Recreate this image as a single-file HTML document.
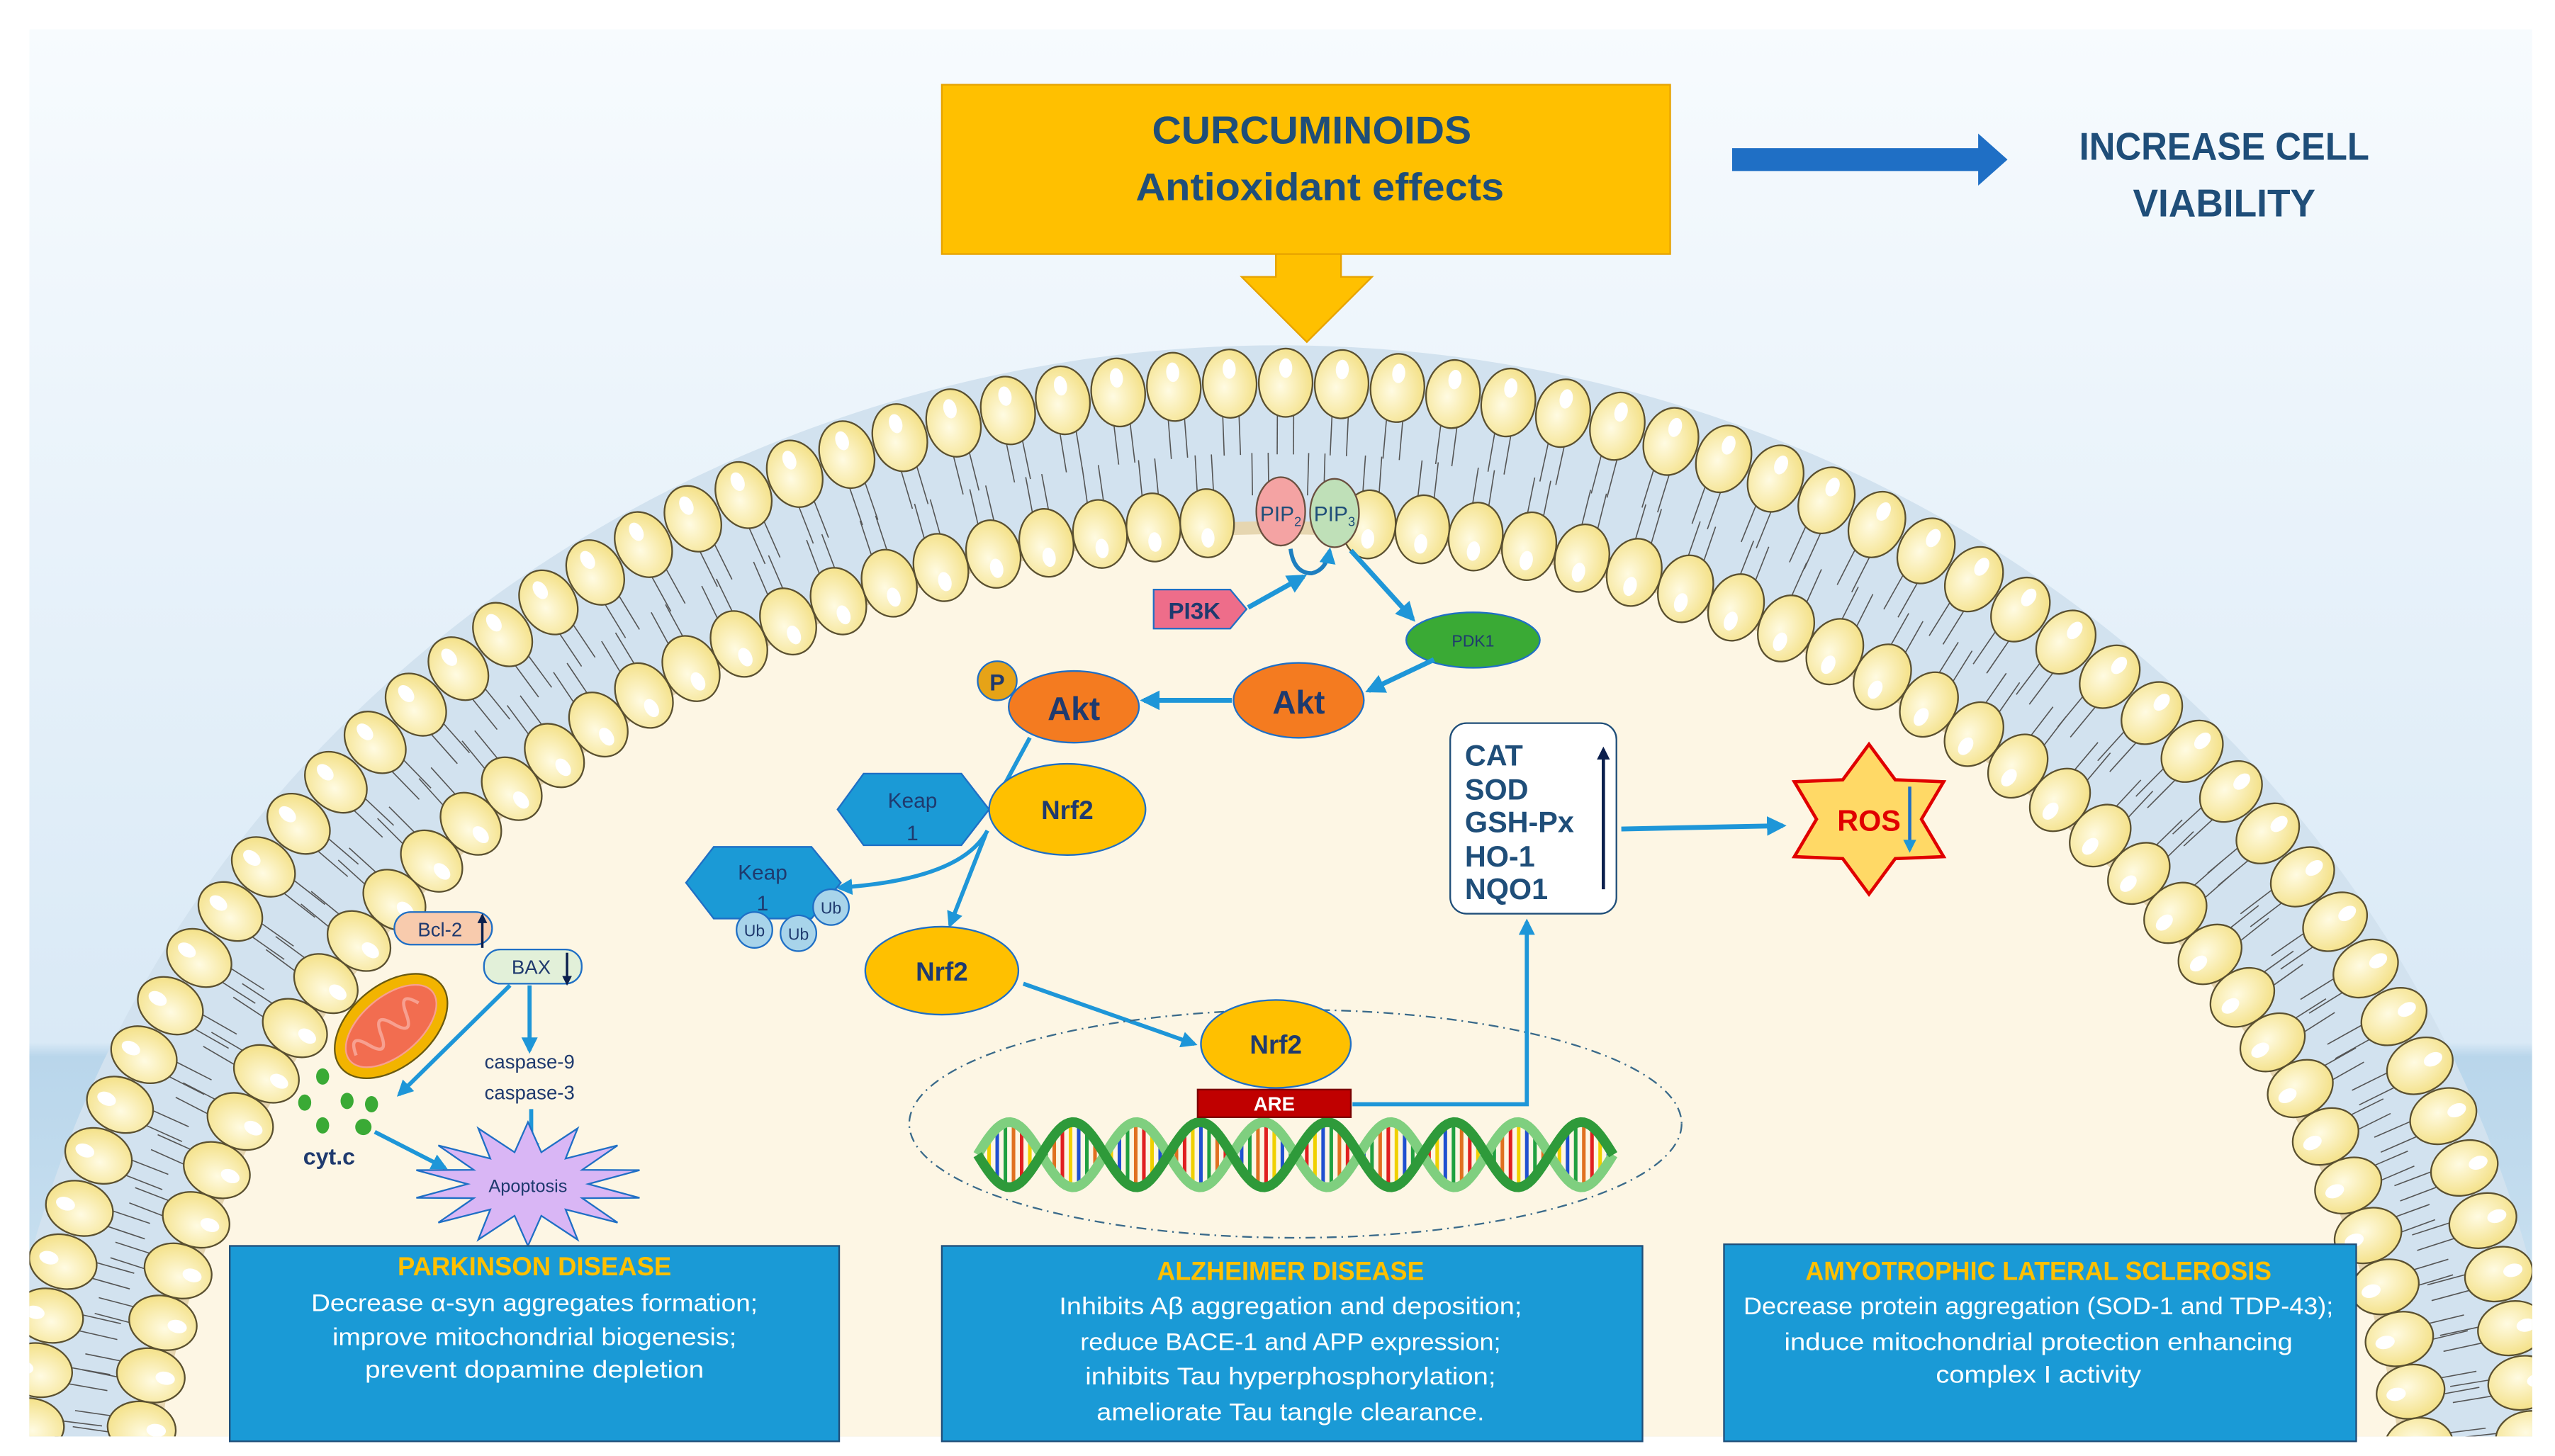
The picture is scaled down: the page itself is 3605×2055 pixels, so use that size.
<!DOCTYPE html>
<html><head><meta charset="utf-8">
<style>
html,body{margin:0;padding:0;background:#fff;overflow:hidden;width:3605px;height:2055px;}
svg{display:block;}
text{font-family:"Liberation Sans",sans-serif;}
</style></head>
<body>
<svg id="s" width="3605" height="2055" viewBox="0 0 1568 894" preserveAspectRatio="none" xmlns="http://www.w3.org/2000/svg">
<defs>
<linearGradient id="bg" x1="0" y1="0" x2="0" y2="1">
<stop offset="0" stop-color="#f7fbfe"/><stop offset="0.72" stop-color="#d9e9f6"/><stop offset="0.73" stop-color="#b9d6eb"/><stop offset="1" stop-color="#d3e6f3"/>
</linearGradient>
<radialGradient id="hd" cx="0.45" cy="0.4" r="0.65">
<stop offset="0" stop-color="#fffbe2"/><stop offset="1" stop-color="#f3df82"/>
</radialGradient>
<clipPath id="cl"><rect x="18" y="18" width="1536" height="864"/></clipPath>
<marker id="ar" viewBox="0 0 10 10" refX="8" refY="5" markerWidth="4" markerHeight="4" orient="auto"><path d="M0,0 L10,5 L0,10 z" fill="#1e96d8"/></marker>
<marker id="ak" viewBox="0 0 10 10" refX="8" refY="5" markerWidth="4" markerHeight="4" orient="auto"><path d="M0,0 L10,5 L0,10 z" fill="#0b1f4d"/></marker>
</defs>
<rect x="0" y="0" width="1568" height="894" fill="#fff"/>
<g clip-path="url(#cl)">
<rect x="18" y="18" width="1536" height="864" fill="url(#bg)"/>
<ellipse cx="785" cy="960" rx="792" ry="748" fill="#d2e2ef"/>
<ellipse cx="785" cy="960" rx="700" ry="640" fill="#e6d6b0"/>
<ellipse cx="785" cy="960" rx="692" ry="632" fill="#fdf6e4"/>
<g id="mem"></g>
</g>

<rect x="578" y="52" width="447" height="104" fill="#ffc000" stroke="#e6a200" stroke-width="1"/>
<text x="805" y="88" font-size="24" font-weight="bold" fill="#1f4e79" text-anchor="middle" textLength="196" lengthAdjust="spacingAndGlyphs">CURCUMINOIDS</text>
<text x="810" y="123" font-size="24" font-weight="bold" fill="#1f4e79" text-anchor="middle" textLength="226" lengthAdjust="spacingAndGlyphs">Antioxidant effects</text>
<path d="M783,156 H823 V170 H842 L802,210 L762,170 H783 Z" fill="#ffc000" stroke="#e6a200" stroke-width="1"/>
<path d="M1063,91 H1214 V82 L1232,98 L1214,114 V105 H1063 Z" fill="#1f6fc5"/>
<text x="1365" y="98" font-size="24" font-weight="bold" fill="#1f4e79" text-anchor="middle" textLength="178" lengthAdjust="spacingAndGlyphs">INCREASE CELL</text>
<text x="1365" y="133" font-size="24" font-weight="bold" fill="#1f4e79" text-anchor="middle" textLength="112" lengthAdjust="spacingAndGlyphs">VIABILITY</text>

<ellipse cx="786" cy="314" rx="15" ry="21" fill="#f4a3a3" stroke="#6a5040"/>
<ellipse cx="819" cy="315" rx="15" ry="21" fill="#bfe0b8" stroke="#6a5040"/>
<text x="786" y="320" font-size="13" fill="#1f4e79" text-anchor="middle">PIP<tspan font-size="8" dy="3">2</tspan></text>
<text x="819" y="320" font-size="13" fill="#1f4e79" text-anchor="middle">PIP<tspan font-size="8" dy="3">3</tspan></text>
<path d="M792,337 Q794,352 805,352 Q814,350 816,338" fill="none" stroke="#1e7fc0" stroke-width="2.5" marker-end="url(#ar)"/>
<path d="M708,362 H755 L765,374 L755,386 H708 Z" fill="#ee6d8a" stroke="#1f6fc5" stroke-width="1"/>
<text x="733" y="380" font-size="14" fill="#1f3a6e" text-anchor="middle" font-weight="bold" textLength="32" lengthAdjust="spacingAndGlyphs">PI3K</text>
<line x1="766" y1="373" x2="800" y2="354" stroke="#1e96d8" stroke-width="3" marker-end="url(#ar)"/>
<line x1="829" y1="338" x2="867" y2="380" stroke="#1e96d8" stroke-width="3" marker-end="url(#ar)"/>
<ellipse cx="904" cy="393" rx="41" ry="17" fill="#3aaa35" stroke="#1f6fc5"/>
<text x="904" y="397" font-size="10" fill="#1f3a6e" text-anchor="middle">PDK1</text>
<line x1="880" y1="405" x2="840" y2="424" stroke="#1e96d8" stroke-width="3" marker-end="url(#ar)"/>
<ellipse cx="797" cy="430" rx="40" ry="23" fill="#f47b20" stroke="#1f6fc5"/>
<text x="797" y="438" font-size="20" font-weight="bold" fill="#1f3a6e" text-anchor="middle">Akt</text>
<line x1="756" y1="430" x2="702" y2="430" stroke="#1e96d8" stroke-width="3" marker-end="url(#ar)"/>
<ellipse cx="659" cy="434" rx="40" ry="22" fill="#f47b20" stroke="#1f6fc5"/>
<text x="659" y="442" font-size="20" font-weight="bold" fill="#1f3a6e" text-anchor="middle">Akt</text>
<circle cx="612" cy="418" r="12" fill="#e6a317" stroke="#1f6fc5"/>
<text x="612" y="424" font-size="14" font-weight="bold" fill="#1f3a6e" text-anchor="middle">P</text>
<line x1="632" y1="453" x2="612" y2="490" stroke="#1e96d8" stroke-width="2.5"/>

<path d="M530,475 H590 L607,497 L590,519 H530 L514,497 Z" fill="#1b9ad6" stroke="#1f6fc5"/>
<text x="560" y="496" font-size="13" fill="#1f3a6e" text-anchor="middle">Keap</text>
<text x="560" y="516" font-size="13" fill="#1f3a6e" text-anchor="middle">1</text>
<ellipse cx="655" cy="497" rx="48" ry="28" fill="#ffc000" stroke="#1f6fc5"/>
<text x="655" y="503" font-size="16" font-weight="bold" fill="#1f3a6e" text-anchor="middle">Nrf2</text>
<path d="M606,510 Q590,540 515,545" fill="none" stroke="#1e96d8" stroke-width="2.5" marker-end="url(#ar)"/>
<line x1="605" y1="512" x2="583" y2="568" stroke="#1e96d8" stroke-width="2.5" marker-end="url(#ar)"/>
<path d="M438,520 H498 L516,542 L498,564 H438 L421,542 Z" fill="#1b9ad6" stroke="#1f6fc5"/>
<text x="468" y="540" font-size="13" fill="#1f3a6e" text-anchor="middle">Keap</text>
<text x="468" y="559" font-size="13" fill="#1f3a6e" text-anchor="middle">1</text>
<circle cx="510" cy="557" r="11" fill="#a8d4ea" stroke="#1f6fc5"/>
<circle cx="463" cy="571" r="11" fill="#a8d4ea" stroke="#1f6fc5"/>
<circle cx="490" cy="573" r="11" fill="#a8d4ea" stroke="#1f6fc5"/>
<text x="510" y="561" font-size="10" fill="#1f3a6e" text-anchor="middle">Ub</text>
<text x="463" y="575" font-size="10" fill="#1f3a6e" text-anchor="middle">Ub</text>
<text x="490" y="577" font-size="10" fill="#1f3a6e" text-anchor="middle">Ub</text>
<ellipse cx="578" cy="596" rx="47" ry="27" fill="#ffc000" stroke="#1f6fc5"/>
<text x="578" y="602" font-size="16" font-weight="bold" fill="#1f3a6e" text-anchor="middle">Nrf2</text>
<line x1="628" y1="604" x2="733" y2="641" stroke="#1e96d8" stroke-width="2.5" marker-end="url(#ar)"/>

<ellipse cx="795" cy="690" rx="237" ry="70" fill="none" stroke="#3a6a8a" stroke-width="1" stroke-dasharray="6,3,1,3"/>
<g id="dna"></g>
<ellipse cx="783" cy="641" rx="46" ry="27" fill="#ffc000" stroke="#1f6fc5"/>
<text x="783" y="647" font-size="16" font-weight="bold" fill="#1f3a6e" text-anchor="middle">Nrf2</text>
<rect x="735" y="669" width="94" height="17" fill="#c00000" stroke="#7a0000"/>
<text x="782" y="682" font-size="12" fill="#fff" text-anchor="middle" font-weight="bold">ARE</text>
<polyline points="830,678 937,678 937,566" fill="none" stroke="#1e96d8" stroke-width="2.5" marker-end="url(#ar)"/>

<rect x="890" y="444" width="102" height="117" rx="10" fill="#fff" stroke="#1f4e79" stroke-width="1"/>
<g font-size="18" font-weight="bold" fill="#1f4e79">
<text x="899" y="470">CAT</text><text x="899" y="491">SOD</text><text x="899" y="511">GSH-Px</text><text x="899" y="532">HO-1</text><text x="899" y="552">NQO1</text></g>
<line x1="984" y1="546" x2="984" y2="460" stroke="#0b1f4d" stroke-width="2" marker-end="url(#ak)"/>
<line x1="995" y1="509" x2="1094" y2="507" stroke="#1e96d8" stroke-width="3" marker-end="url(#ar)"/>
<polygon id="ros" fill="#ffd966" stroke="#e00000" stroke-width="2"/>
<text x="1147" y="510" font-size="18" font-weight="bold" fill="#e00000" text-anchor="middle">ROS</text>
<line x1="1172" y1="483" x2="1172" y2="522" stroke="#1f6fc5" stroke-width="2" marker-end="url(#ar)"/>

<rect x="242" y="560" width="60" height="20" rx="10" fill="#f8cbad" stroke="#1f6fc5"/>
<text x="270" y="575" font-size="12" fill="#1f3a6e" text-anchor="middle">Bcl-2</text>
<line x1="296" y1="582" x2="296" y2="562" stroke="#0b1f4d" stroke-width="1.5" marker-end="url(#ak)"/>
<rect x="297" y="583" width="60" height="21" rx="10" fill="#e2f0d9" stroke="#1f6fc5"/>
<text x="326" y="598" font-size="12" fill="#1f3a6e" text-anchor="middle">BAX</text>
<line x1="348" y1="585" x2="348" y2="604" stroke="#0b1f4d" stroke-width="1.5" marker-end="url(#ak)"/>
<g transform="rotate(-40 240 630)">
<ellipse cx="240" cy="630" rx="40" ry="25" fill="#f2b400" stroke="#6a5a10"/>
<ellipse cx="240" cy="630" rx="33" ry="18" fill="#f26d50" stroke="#f7a090"/>
<path d="M212,630 q5,-14 10,0 t10,0 t10,0 t10,0 t10,0" fill="none" stroke="#f7a090" stroke-width="2"/>
</g>
<line x1="313" y1="605" x2="245" y2="672" stroke="#1e96d8" stroke-width="2.5" marker-end="url(#ar)"/>
<line x1="325" y1="605" x2="325" y2="645" stroke="#1e96d8" stroke-width="2.5" marker-end="url(#ar)"/>
<text x="325" y="656" font-size="12" fill="#1f3a6e" text-anchor="middle">caspase-9</text>
<text x="325" y="675" font-size="12" fill="#1f3a6e" text-anchor="middle">caspase-3</text>
<line x1="326" y1="681" x2="326" y2="710" stroke="#1e96d8" stroke-width="2.5" marker-end="url(#ar)"/>
<g fill="#3aaa35"><ellipse cx="198" cy="661" rx="4" ry="5"/><ellipse cx="187" cy="677" rx="4" ry="5"/><ellipse cx="213" cy="676" rx="4" ry="5"/><ellipse cx="228" cy="678" rx="4" ry="5"/><ellipse cx="198" cy="691" rx="4" ry="5"/><ellipse cx="223" cy="692" rx="5" ry="5"/></g>
<text x="202" y="715" font-size="14" font-weight="bold" fill="#1f3a6e" text-anchor="middle">cyt.c</text>
<line x1="230" y1="695" x2="273" y2="717" stroke="#1e96d8" stroke-width="2.5" marker-end="url(#ar)"/>
<polygon id="apo" fill="#d9b6f5" stroke="#1f6fc5" stroke-width="1"/>
<text x="324" y="732" font-size="11" fill="#1f3a6e" text-anchor="middle">Apoptosis</text>

<rect x="141" y="765" width="374" height="120" fill="#1a9ad6" stroke="#1f4e79"/>
<text x="328" y="783" font-size="16" font-weight="bold" fill="#ffc000" text-anchor="middle" textLength="168" lengthAdjust="spacingAndGlyphs">PARKINSON DISEASE</text>
<g font-size="15" fill="#fff" text-anchor="middle">
<text x="328" y="805" textLength="274" lengthAdjust="spacingAndGlyphs">Decrease α-syn aggregates formation;</text>
<text x="328" y="826" textLength="248" lengthAdjust="spacingAndGlyphs">improve mitochondrial biogenesis;</text>
<text x="328" y="846" textLength="208" lengthAdjust="spacingAndGlyphs">prevent dopamine depletion</text>
</g>
<rect x="578" y="765" width="430" height="120" fill="#1a9ad6" stroke="#1f4e79"/>
<text x="792" y="786" font-size="16" font-weight="bold" fill="#ffc000" text-anchor="middle" textLength="164" lengthAdjust="spacingAndGlyphs">ALZHEIMER DISEASE</text>
<g font-size="15" fill="#fff" text-anchor="middle">
<text x="792" y="807" textLength="284" lengthAdjust="spacingAndGlyphs">Inhibits Aβ aggregation and deposition;</text>
<text x="792" y="829" textLength="258" lengthAdjust="spacingAndGlyphs">reduce BACE-1 and APP expression;</text>
<text x="792" y="850" textLength="252" lengthAdjust="spacingAndGlyphs">inhibits Tau hyperphosphorylation;</text>
<text x="792" y="872" textLength="238" lengthAdjust="spacingAndGlyphs">ameliorate Tau tangle clearance.</text>
</g>
<rect x="1058" y="764" width="388" height="121" fill="#1a9ad6" stroke="#1f4e79"/>
<text x="1251" y="786" font-size="16" font-weight="bold" fill="#ffc000" text-anchor="middle" textLength="286" lengthAdjust="spacingAndGlyphs">AMYOTROPHIC LATERAL SCLEROSIS</text>
<g font-size="15" fill="#fff" text-anchor="middle">
<text x="1251" y="807" textLength="362" lengthAdjust="spacingAndGlyphs">Decrease protein aggregation (SOD-1 and TDP-43);</text>
<text x="1251" y="829" textLength="312" lengthAdjust="spacingAndGlyphs">induce mitochondrial protection enhancing</text>
<text x="1251" y="849" textLength="126" lengthAdjust="spacingAndGlyphs">complex I activity</text>
</g>
</svg>
<script>
(function(){
var NS="http://www.w3.org/2000/svg";
function el(n,a,p){var e=document.createElementNS(NS,n);for(var k in a)e.setAttribute(k,a[k]);p.appendChild(e);return e;}
var mem=document.getElementById('mem');
var cx=785,cy=960;
function row(a,b,step){
  var pts=[],acc=step/2,px=cx-a,py=cy;
  for(var t=Math.PI;t>=0;t-=0.0005){
    var x=cx+a*Math.cos(t),y=cy-b*Math.sin(t);
    acc+=Math.hypot(x-px,y-py);px=x;py=y;
    if(acc>=step){acc=0;
      var nx=b*Math.cos(t),ny=-a*Math.sin(t),L=Math.hypot(nx,ny);nx/=L;ny/=L;
      pts.push([x,y,nx,ny]);}
  }
  return pts;
}
var O=row(772,725,34),I=row(704,640,33);
O.forEach(function(p){
  for(var k=-1;k<=1;k+=2){
    var ox=p[0]-p[2]*16+(-p[3])*k*5, oy=p[1]-p[3]*16+(p[2])*k*5;
    el('line',{x1:ox,y1:oy,x2:ox-p[2]*28,y2:oy-p[3]*28,stroke:'#555','stroke-width':0.7},mem);
  }});
I.forEach(function(p){
  for(var k=-1;k<=1;k+=2){
    var ox=p[0]+p[2]*16+(-p[3])*k*5, oy=p[1]+p[3]*16+(p[2])*k*5;
    el('line',{x1:ox,y1:oy,x2:ox+p[2]*26,y2:oy+p[3]*26,stroke:'#555','stroke-width':0.7},mem);
  }});
function heads(P,out){
  P.forEach(function(p){
    if(Math.abs(p[0]-802)<30 && p[1]<340 && !out) return;
    var ang=Math.atan2(p[3],p[2])*180/Math.PI;
    var g=el('g',{transform:'translate('+p[0]+','+p[1]+') rotate('+ang+')'},mem);
    el('ellipse',{cx:0,cy:0,rx:21,ry:16.5,fill:'url(#hd)',stroke:'#5a5030','stroke-width':1},g);
    el('ellipse',{cx:out?9:-9,cy:0,rx:6,ry:4,fill:'#fff'},g);
  });
}
heads(O,true);heads(I,false);
var d=document.getElementById('dna');
var s1='',s2='';
for(var x=600;x<=990;x+=2){
  var ph=(x-600)*2*Math.PI/78;
  var y1=709+20*Math.sin(ph),y2=709-20*Math.sin(ph);
  s1+=(x==600?'M':'L')+x+','+y1;s2+=(x==600?'M':'L')+x+','+y2;
}
var cols=['#e02020','#f0d000','#2050d0','#20a040','#e07020'];
for(var x=602,i=0;x<=988;x+=5,i++){
  var ph=(x-600)*2*Math.PI/78;
  el('line',{x1:x,y1:709+20*Math.sin(ph),x2:x,y2:709-20*Math.sin(ph),stroke:cols[i%5],'stroke-width':2.2},d);
}
el('path',{d:s2,fill:'none',stroke:'#7fcf7f','stroke-width':6},d);
el('path',{d:s1,fill:'none',stroke:'#2e9a3a','stroke-width':6},d);
function star(id,cx,cy,n,ro,ri,sx){
  var p=[];for(var i=0;i<2*n;i++){var r=i%2?ri:ro,a=Math.PI*i/n-Math.PI/2;p.push((cx+r*Math.cos(a)*sx).toFixed(1)+','+(cy+r*Math.sin(a)).toFixed(1));}
  document.getElementById(id).setAttribute('points',p.join(' '));
}
star('ros',1147,503,6,46,28,1.15);
star('apo',324,727,14,38,20,1.85);
})();
</script>
</body></html>
